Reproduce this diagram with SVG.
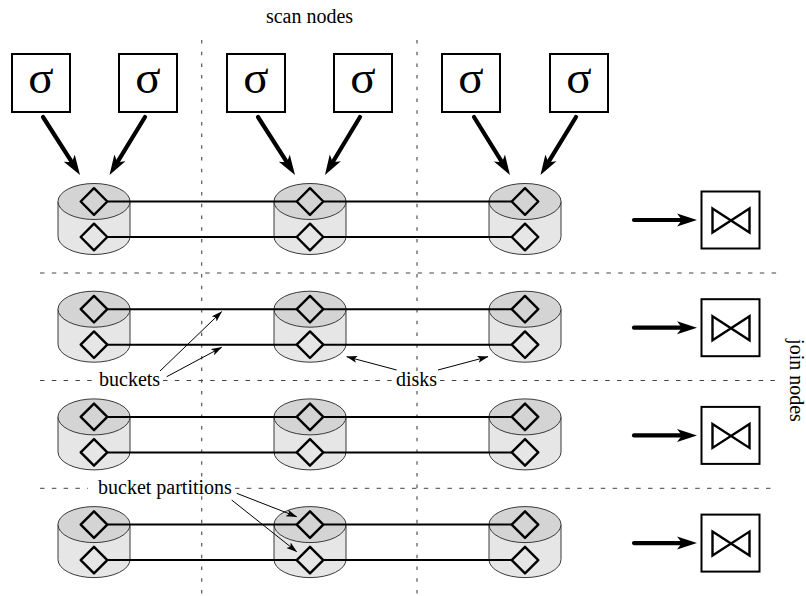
<svg xmlns="http://www.w3.org/2000/svg" xmlns:xlink="http://www.w3.org/1999/xlink" width="806" height="596" viewBox="0 0 806 596">
<style>
  .lbl { font-family: "Liberation Serif", "Times New Roman", serif; font-size: 20px; fill: #000; }
  .sig { font-family: "Liberation Serif", "Times New Roman", serif; font-size: 47px; fill: #000; text-anchor: middle; }
  .box { fill: #fff; stroke: #000; stroke-width: 2; }
  .vsep { stroke: #555; stroke-width: 1.2; stroke-dasharray: 3.5 8.2; fill: none; }
  .hsep { stroke: #444; stroke-width: 1; stroke-dasharray: 4.5 7.3; fill: none; }
  .thick { stroke: #000; stroke-width: 4.2; stroke-linecap: round; fill: none; marker-end: url(#headThick); }
  .bucket { stroke: #000; stroke-width: 2; fill: none; }
  .thin { stroke: #000; stroke-width: 1; fill: none; marker-end: url(#headThin); }
  .cylBody { fill: #e6e6e6; stroke: #3a3a3a; stroke-width: 1; }
  .cylTop { fill: #d4d4d4; stroke: #3a3a3a; stroke-width: 1; }
  .dia { fill: none; stroke: #000; stroke-width: 2.4; stroke-linejoin: round; }
  .bow { fill: none; stroke: #000; stroke-width: 2.4; stroke-linejoin: miter; }
</style>
<defs>
  <marker id="headThick" markerUnits="userSpaceOnUse" markerWidth="22" markerHeight="15" refX="6" refY="7" orient="auto">
    <path d="M0,0.5 L20,7 L0,13.5 L5,7 Z" fill="#000"/>
  </marker>
  <marker id="headThin" markerUnits="userSpaceOnUse" markerWidth="12" markerHeight="8" refX="10.5" refY="3.5" orient="auto">
    <path d="M0,0 L11,3.5 L0,7 L2.5,3.5 Z" fill="#000"/>
  </marker>
  <g id="cyl">
    <path class="cylBody" d="M-36,0 L-36,35 A36,18 0 0 0 36,35 L36,0 Z"/>
    <ellipse class="cylTop" cx="0" cy="0" rx="36" ry="18"/>
    <path class="dia" d="M0,-13.3 L13.3,0 L0,13.3 L-13.3,0 Z"/>
    <path class="dia" transform="translate(0,35.5)" d="M0,-13.3 L13.3,0 L0,13.3 L-13.3,0 Z"/>
  </g>
  <g id="joinBox">
    <rect class="box" x="0" y="0" width="58" height="57"/>
    <path class="bow" d="M11,17 L48,41 L48,17 L11,41 Z"/>
  </g>
</defs>

<rect width="806" height="596" fill="#fff"/>

<!-- separators -->
<g id="separators">
  <line class="vsep" x1="201.7" y1="40" x2="201.7" y2="596"/>
  <line class="vsep" x1="417" y1="40" x2="417" y2="596"/>
  <line class="hsep" x1="40" y1="273" x2="777" y2="273"/>
  <line class="hsep" x1="40" y1="380.5" x2="97" y2="380.5"/>
  <line class="hsep" x1="163" y1="380.5" x2="394" y2="380.5"/>
  <line class="hsep" x1="440" y1="380.5" x2="777" y2="380.5"/>
  <line class="hsep" x1="40" y1="488.3" x2="88" y2="488.3"/>
  <line class="hsep" x1="235" y1="488.3" x2="777" y2="488.3"/>
</g>

<!-- scan nodes -->
<g id="scan1"><rect class="box" x="12" y="54" width="58" height="58"/><text class="sig" x="41" y="93">σ</text></g>
<g id="scan2"><rect class="box" x="119" y="54" width="58" height="58"/><text class="sig" x="148" y="93">σ</text></g>
<g id="scan3"><rect class="box" x="227" y="54" width="58" height="58"/><text class="sig" x="256" y="93">σ</text></g>
<g id="scan4"><rect class="box" x="334" y="54" width="58" height="58"/><text class="sig" x="363" y="93">σ</text></g>
<g id="scan5"><rect class="box" x="442" y="54" width="58" height="58"/><text class="sig" x="471" y="93">σ</text></g>
<g id="scan6"><rect class="box" x="550" y="54" width="58" height="58"/><text class="sig" x="579" y="93">σ</text></g>

<!-- disks -->
<g id="disk-r1-c1"><use xlink:href="#cyl" href="#cyl" transform="translate(94,201.5)"/></g>
<g id="disk-r1-c2"><use xlink:href="#cyl" href="#cyl" transform="translate(310,201.5)"/></g>
<g id="disk-r1-c3"><use xlink:href="#cyl" href="#cyl" transform="translate(525,201.5)"/></g>
<g id="disk-r2-c1"><use xlink:href="#cyl" href="#cyl" transform="translate(94,309.2)"/></g>
<g id="disk-r2-c2"><use xlink:href="#cyl" href="#cyl" transform="translate(310,309.2)"/></g>
<g id="disk-r2-c3"><use xlink:href="#cyl" href="#cyl" transform="translate(525,309.2)"/></g>
<g id="disk-r3-c1"><use xlink:href="#cyl" href="#cyl" transform="translate(94,416.9)"/></g>
<g id="disk-r3-c2"><use xlink:href="#cyl" href="#cyl" transform="translate(310,416.9)"/></g>
<g id="disk-r3-c3"><use xlink:href="#cyl" href="#cyl" transform="translate(525,416.9)"/></g>
<g id="disk-r4-c1"><use xlink:href="#cyl" href="#cyl" transform="translate(94,524.6)"/></g>
<g id="disk-r4-c2"><use xlink:href="#cyl" href="#cyl" transform="translate(310,524.6)"/></g>
<g id="disk-r4-c3"><use xlink:href="#cyl" href="#cyl" transform="translate(525,524.6)"/></g>

<!-- join nodes -->
<g id="join1"><use xlink:href="#joinBox" href="#joinBox" transform="translate(701.5,191.5)"/></g>
<g id="join2"><use xlink:href="#joinBox" href="#joinBox" transform="translate(701.5,299.2)"/></g>
<g id="join3"><use xlink:href="#joinBox" href="#joinBox" transform="translate(701.5,406.9)"/></g>
<g id="join4"><use xlink:href="#joinBox" href="#joinBox" transform="translate(701.5,514.6)"/></g>

<!-- connectors -->
<g id="connectors">
  <line class="thick" x1="43" y1="117" x2="72.5" y2="163.2"/>
  <line class="thick" x1="145" y1="117" x2="116.8" y2="163.1"/>
  <line class="thick" x1="258" y1="117" x2="287.5" y2="163.2"/>
  <line class="thick" x1="360" y1="117" x2="332.2" y2="163.0"/>
  <line class="thick" x1="474" y1="117" x2="502.6" y2="163.1"/>
  <line class="thick" x1="576" y1="117" x2="547.8" y2="163.1"/>

  <line class="bucket" x1="107.3" y1="201.5" x2="296.7" y2="201.5"/>
  <line class="bucket" x1="323.3" y1="201.5" x2="511.7" y2="201.5"/>
  <line class="bucket" x1="107.3" y1="237" x2="296.7" y2="237"/>
  <line class="bucket" x1="323.3" y1="237" x2="511.7" y2="237"/>
  <line class="bucket" x1="107.3" y1="309.2" x2="296.7" y2="309.2"/>
  <line class="bucket" x1="323.3" y1="309.2" x2="511.7" y2="309.2"/>
  <line class="bucket" x1="107.3" y1="344.7" x2="296.7" y2="344.7"/>
  <line class="bucket" x1="323.3" y1="344.7" x2="511.7" y2="344.7"/>
  <line class="bucket" x1="107.3" y1="416.9" x2="296.7" y2="416.9"/>
  <line class="bucket" x1="323.3" y1="416.9" x2="511.7" y2="416.9"/>
  <line class="bucket" x1="107.3" y1="452.4" x2="296.7" y2="452.4"/>
  <line class="bucket" x1="323.3" y1="452.4" x2="511.7" y2="452.4"/>
  <line class="bucket" x1="107.3" y1="524.6" x2="296.7" y2="524.6"/>
  <line class="bucket" x1="323.3" y1="524.6" x2="511.7" y2="524.6"/>
  <line class="bucket" x1="107.3" y1="560.1" x2="296.7" y2="560.1"/>
  <line class="bucket" x1="323.3" y1="560.1" x2="511.7" y2="560.1"/>

  <line class="thick" x1="634" y1="220" x2="683" y2="220"/>
  <line class="thick" x1="634" y1="327.7" x2="683" y2="327.7"/>
  <line class="thick" x1="634" y1="435.4" x2="683" y2="435.4"/>
  <line class="thick" x1="634" y1="543.1" x2="683" y2="543.1"/>

  <line class="thin" x1="160" y1="371" x2="221.7" y2="311.7"/>
  <line class="thin" x1="166.7" y1="376.7" x2="221.7" y2="347.3"/>
  <line class="thin" x1="396.7" y1="370" x2="346.7" y2="356.7"/>
  <line class="thin" x1="438" y1="370" x2="488" y2="356.7"/>
  <line class="thin" x1="236.7" y1="493.3" x2="296.7" y2="516.7"/>
  <line class="thin" x1="231.7" y1="500" x2="296.7" y2="551.7"/>
</g>

<!-- labels -->
<g id="labels">
  <text class="lbl" x="309.5" y="23" text-anchor="middle">scan nodes</text>
  <text class="lbl" x="99" y="386">buckets</text>
  <text class="lbl" x="396" y="386">disks</text>
  <text class="lbl" x="98" y="494">bucket partitions</text>
  <text class="lbl" transform="translate(789.5,380.5) rotate(90)" text-anchor="middle">join nodes</text>
</g>
</svg>
